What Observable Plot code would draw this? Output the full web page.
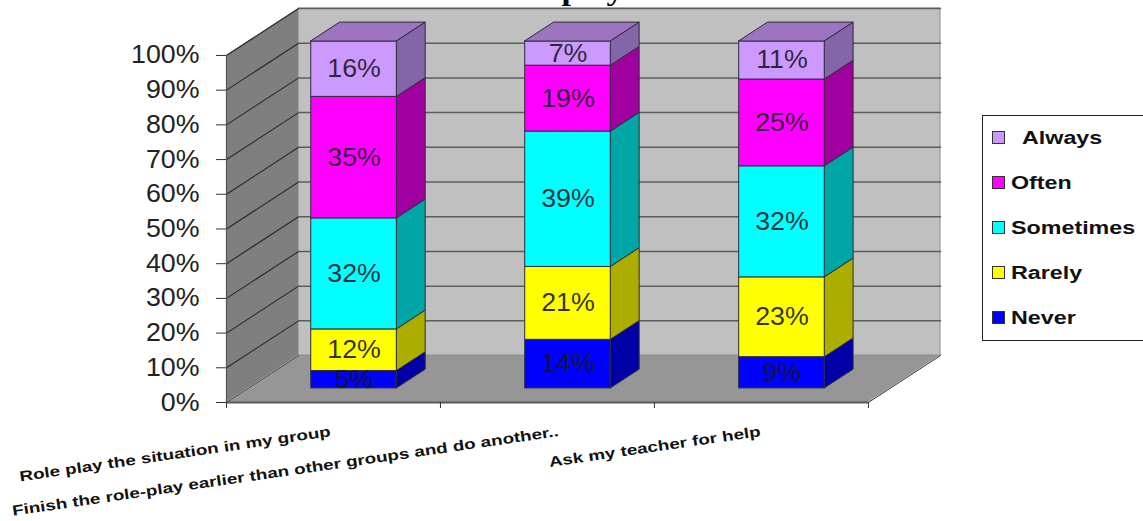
<!DOCTYPE html>
<html>
<head>
<meta charset="utf-8">
<script src="https://cdn.jsdelivr.net/npm/d3@7"></script>
<script src="https://cdn.jsdelivr.net/npm/@observablehq/plot@0.6"></script>
<style>
  html, body { margin: 0; padding: 0; background: #fff; overflow: hidden; }
  #wrap { position: relative; width: 1143px; height: 521px; overflow: hidden; }
  #legend { position: absolute; left: 982px; top: 115px; width: 200px; height: 226px;
            box-sizing: border-box; border: 1.5px solid #222; background: #fff; }
  #legend .sw { position: absolute; width: 11px; height: 11px; left: 9px; border: 1px solid #333; }
  #legend .lb { position: absolute; font: bold 17.5px "Liberation Sans", Arial, sans-serif; color: #111;
                transform: scaleX(1.33); transform-origin: left center; white-space: nowrap; line-height: 20px; }
</style>
</head>
<body>
<div id="wrap"></div>
<script>
// Survey answers per strategy, in percent, stacked from the bottom up.
const categories = [
  "Role play the situation in my group",
  "Finish the role-play earlier than other groups and do another..",
  "Ask my teacher for help"
];
const seriesNames = ["Never", "Rarely", "Sometimes", "Often", "Always"];
const never = [5, 14, 9];
const rarely = [12, 21, 23];
const sometimes = [32, 39, 32];
const often = [35, 19, 25];
const always = [16, 7, 11];
const seriesValues = [never, rarely, sometimes, often, always];
const frontColors = ["#0000ff", "#ffff00", "#00ffff", "#ff00ff", "#cc99ff"];
const sideColors = ["#0000a6", "#adad00", "#00a5a5", "#a0009f", "#8466a8"];
const topColor = "#9c74c0";
const yTicks = [0, 10, 20, 30, 40, 50, 60, 70, 80, 90, 100];
const xTicks = [0, 1, 2, 3];

// Oblique projection: a unit of depth moves right along x and up along y.
const depthX = 0.337;
const depthY = 13.53;
const barStart = 0.295;
const barWidth = 0.4;
const barNear = 0.3;
const barFar = 0.7;

// A parallelogram with a constant fill, sliced vertically (wall) or horizontally (floor, caps).
const vface = (rows, fill, o = {}) => Plot.area(rows, {x1: "x", y1: "lo", y2: "hi", fill, ...o});
const hface = (rows, fill, o = {}) => Plot.area(rows, {y1: "y", x1: "a", x2: "b", fill, ...o});

const walls = [
  vface([{x: 0, lo: 0, hi: 100}, {x: depthX, lo: depthY, hi: 100 + depthY}], "#7f7f7f"),
  hface([{y: 0, a: 0, b: 3}, {y: depthY, a: depthX, b: 3 + depthX}], "#969696"),
  Plot.rect([0], {x1: depthX, x2: 3 + depthX, y1: depthY, y2: 100 + depthY, fill: "#c0c0c0", stroke: "#8a8a8a", strokeWidth: 1})
];

// Gridlines run up the side wall and across the back wall.
const grid = yTicks.flatMap(v => v === 0
  ? [Plot.line([{x: 0, y: 0}, {x: depthX, y: depthY}], {x: "x", y: "y", stroke: "#333", strokeWidth: 0.8, strokeDasharray: "2,1"})]
  : [
      Plot.line([{x: 0, y: v}, {x: depthX, y: v + depthY}], {x: "x", y: "y", stroke: "#2a2a2a", strokeWidth: 1.1}),
      Plot.line([{x: depthX, y: v + depthY}, {x: 3 + depthX, y: v + depthY}], {x: "x", y: "y", stroke: "#5c5c5c", strokeWidth: 1.5})
    ]);

const edges = [
  Plot.line([{x: 3, y: 0}, {x: 3 + depthX, y: depthY}], {x: "x", y: "y", stroke: "#333", strokeWidth: 1}),
  Plot.ruleY([0], {x1: 0, x2: 3, stroke: "#5a5a5a", strokeWidth: 2}),
  Plot.ruleX([0], {y1: 0, y2: 100, stroke: "#555", strokeWidth: 1.2})
];

// Each stacked column: side faces, cap, then the front faces and their percentages.
const barMarks = [];
const barLabels = [];
categories.forEach((c, i) => {
  const x0 = i + barStart + barNear * depthX;
  const x1 = x0 + barWidth;
  const dn = barNear * depthY;
  const ds = (barFar - barNear);
  let base = 0;
  seriesValues.forEach((vals, s) => {
    const v = vals[i];
    const lo = base + dn;
    const hi = base + v + dn;
    barMarks.push(vface(
      [{x: x1, lo, hi}, {x: x1 + ds * depthX, lo: lo + ds * depthY, hi: hi + ds * depthY}],
      sideColors[s], {stroke: "#2c2c3a", strokeWidth: 1}));
    barMarks.push(Plot.rect([0], {x1: x0, x2: x1, y1: lo, y2: hi, fill: frontColors[s], stroke: "#2c2c3a", strokeWidth: 1}));
    barLabels.push({x: (x0 + x1) / 2, y: (lo + hi) / 2, t: v + "%"});
    base += v;
  });
  const top = base + dn;
  barMarks.push(hface(
    [{y: top, a: x0, b: x1}, {y: top + (barFar - barNear) * depthY, a: x0 + ds * depthX, b: x1 + ds * depthX}],
    topColor, {stroke: "#2c2c3a", strokeWidth: 1}));
});

// Category labels are slanted, with their right ends under the axis intervals.
const labelNudge = [-3, 11, -1];
const categoryMarks = categories.map((c, i) =>
  Plot.text([c], {
    x: () => i + 0.5, y: () => 0, text: d => d, rotate: -8.3, textAnchor: "end",
    dx: labelNudge[i], dy: 29, fontSize: 14.5, fontWeight: "bold", fill: "#111",
    fontFamily: "Liberation Sans, Arial, sans-serif", className: "cat-label"
  }));

const chart = Plot.plot({
  width: 1143,
  height: 521,
  marginLeft: 226,
  marginRight: 203,
  marginTop: 8,
  marginBottom: 119,
  style: {background: "transparent", fontFamily: "Liberation Sans, Arial, sans-serif"},
  x: {domain: [0, 3 + depthX]},
  y: {domain: [0, 100 + depthY]},
  marks: [
    ...walls,
    ...grid,
    ...edges,
    ...barMarks,
    Plot.text(barLabels, {x: "x", y: "y", text: "t", fontSize: 25, fill: "#16161f", fillOpacity: 0.88, className: "stretch-label"}),
    Plot.axisY({ticks: yTicks, tickFormat: d => d + "%", tickSize: 10, tickPadding: 17, fontSize: 25,
                stroke: "#333", fill: "#222", label: null, className: "stretch-label"}),
    Plot.axisX({ticks: xTicks, tickFormat: () => "", tickSize: 6, stroke: "#333", label: null}),
    ...categoryMarks,
    Plot.text(["play"], {
      x: () => 1.566, y: () => 100 + depthY, text: d => d, textAnchor: "start", lineAnchor: "bottom", dy: -9,
      fontFamily: "Liberation Serif, Times New Roman, serif", fontWeight: "bold", fontSize: 27, fill: "#000", className: "title-label"
    })
  ]
});

const wrap = document.getElementById("wrap");
wrap.appendChild(chart);

// The labels are set wider than the font's natural proportions.
function stretch(selector, factor) {
  chart.querySelectorAll(selector).forEach(t => {
    const len = t.getComputedTextLength();
    if (len > 0) {
      t.setAttribute("textLength", (len * factor).toFixed(1));
      t.setAttribute("lengthAdjust", "spacingAndGlyphs");
    }
  });
}
stretch(".stretch-label text, text.stretch-label", 1.07);
stretch(".cat-label text, text.cat-label", 1.3);
stretch(".title-label text, text.title-label", 1.25);

// Series key, listed from the top of the stack down.
const legend = document.createElement("div");
legend.id = "legend";
seriesNames.slice().reverse().forEach((name, i) => {
  const s = seriesNames.length - 1 - i;
  const swatch = document.createElement("div");
  swatch.className = "sw";
  swatch.style.top = (15 + i * 45) + "px";
  swatch.style.background = frontColors[s];
  const label = document.createElement("div");
  label.className = "lb";
  label.textContent = name;
  label.style.left = (name === "Always" ? 39 : 28) + "px";
  label.style.top = (12 + i * 45) + "px";
  legend.appendChild(swatch);
  legend.appendChild(label);
});
wrap.appendChild(legend);
</script>
</body>
</html>
